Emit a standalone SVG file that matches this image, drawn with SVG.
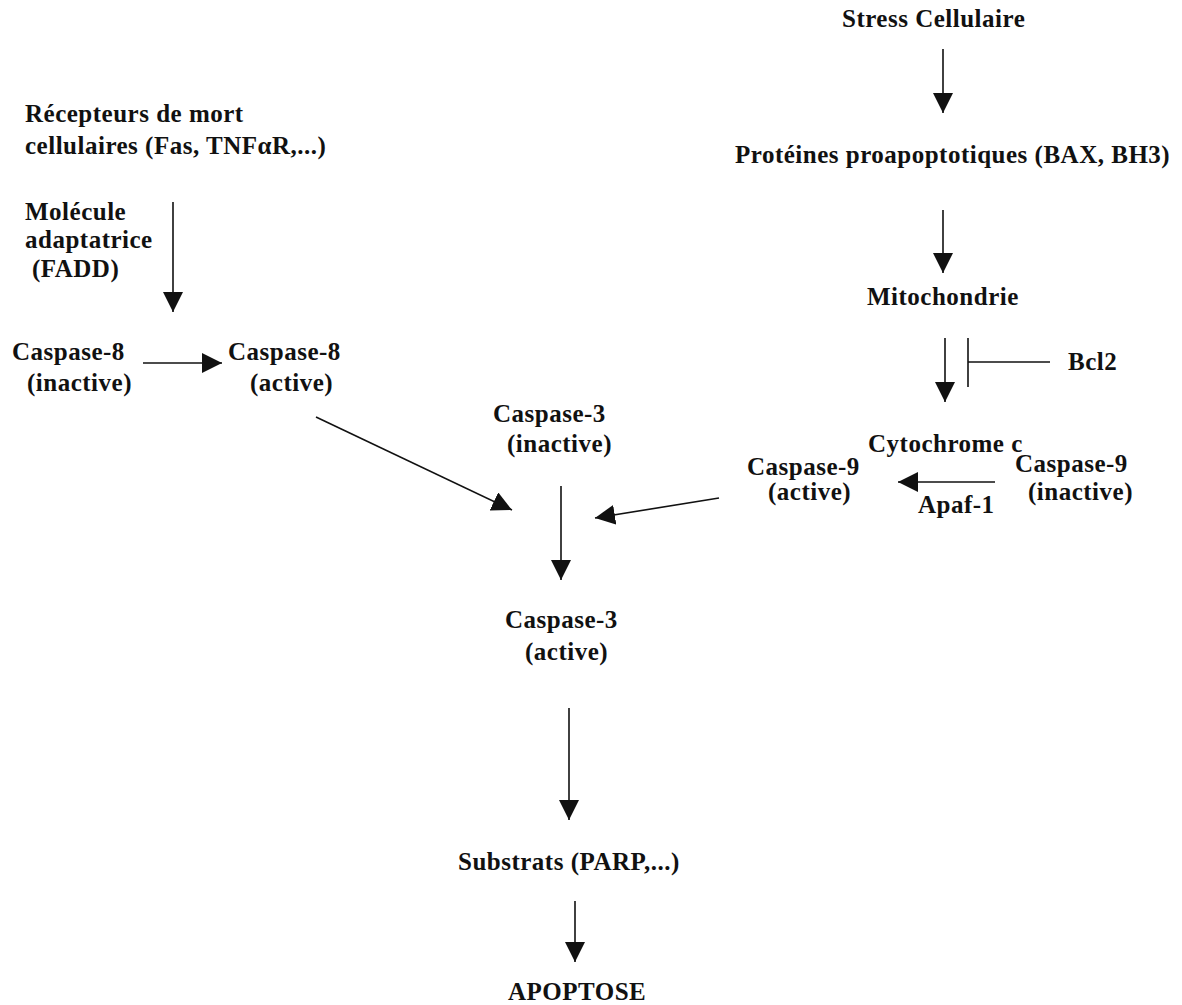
<svg xmlns="http://www.w3.org/2000/svg" width="1182" height="1005" viewBox="0 0 1182 1005">
<style>
text{font-family:"Liberation Serif","Times New Roman",serif;font-weight:bold;font-size:25px;letter-spacing:0.5px;fill:#111}
.c line{stroke:#111;stroke-width:1.6}
</style>
<defs>
<marker id="ah" markerUnits="userSpaceOnUse" markerWidth="22" markerHeight="22" refX="20" refY="10" orient="auto">
<path d="M0,0 L20,10 L0,20 z" fill="#111"/>
</marker>
</defs>
<rect width="1182" height="1005" fill="#fff"/>
<g id="stress"><text x="842" y="27">Stress Cellulaire</text></g>
<g id="proteines"><text x="735" y="163">Protéines proapoptotiques (BAX, BH3)</text></g>
<g id="mito"><text x="867" y="305">Mitochondrie</text></g>
<g id="bcl2"><text x="1068" y="370">Bcl2</text></g>
<g id="cyto"><text x="868" y="452">Cytochrome c</text></g>
<g id="casp9a"><text x="747" y="475">Caspase-9</text><text x="768" y="500">(active)</text></g>
<g id="casp9i"><text x="1015" y="472">Caspase-9</text><text x="1028" y="500">(inactive)</text></g>
<g id="apaf"><text x="918" y="513">Apaf-1</text></g>
<g id="recepteurs"><text x="25" y="122">Récepteurs de mort</text><text x="25" y="154">cellulaires (Fas, TNFαR,...)</text></g>
<g id="fadd"><text x="25" y="220">Molécule</text><text x="25" y="248">adaptatrice</text><text x="32" y="277">(FADD)</text></g>
<g id="casp8i"><text x="12" y="360">Caspase-8</text><text x="27" y="391">(inactive)</text></g>
<g id="casp8a"><text x="228" y="360">Caspase-8</text><text x="250" y="391">(active)</text></g>
<g id="casp3i"><text x="493" y="422">Caspase-3</text><text x="507" y="452">(inactive)</text></g>
<g id="casp3a"><text x="505" y="628">Caspase-3</text><text x="525" y="660">(active)</text></g>
<g id="substrats"><text x="458" y="870">Substrats (PARP,...)</text></g>
<g id="apoptose"><text x="508" y="1000">APOPTOSE</text></g>
<g id="connectors" class="c">
<line x1="943" y1="49" x2="943" y2="113" marker-end="url(#ah)"/>
<line x1="943" y1="210" x2="943" y2="273" marker-end="url(#ah)"/>
<line x1="945" y1="338" x2="945" y2="402" marker-end="url(#ah)"/>
<line x1="968" y1="338" x2="968" y2="387"/>
<line x1="968" y1="362" x2="1050" y2="362"/>
<line x1="995" y1="482" x2="898" y2="482" marker-end="url(#ah)"/>
<line x1="719" y1="498" x2="595" y2="518" marker-end="url(#ah)"/>
<line x1="316" y1="417" x2="512" y2="510" marker-end="url(#ah)"/>
<line x1="173" y1="202" x2="173" y2="312" marker-end="url(#ah)"/>
<line x1="143" y1="363" x2="222" y2="363" marker-end="url(#ah)"/>
<line x1="561" y1="486" x2="561" y2="580" marker-end="url(#ah)"/>
<line x1="569" y1="708" x2="569" y2="820" marker-end="url(#ah)"/>
<line x1="575" y1="901" x2="575" y2="962" marker-end="url(#ah)"/>
</g>
</svg>
